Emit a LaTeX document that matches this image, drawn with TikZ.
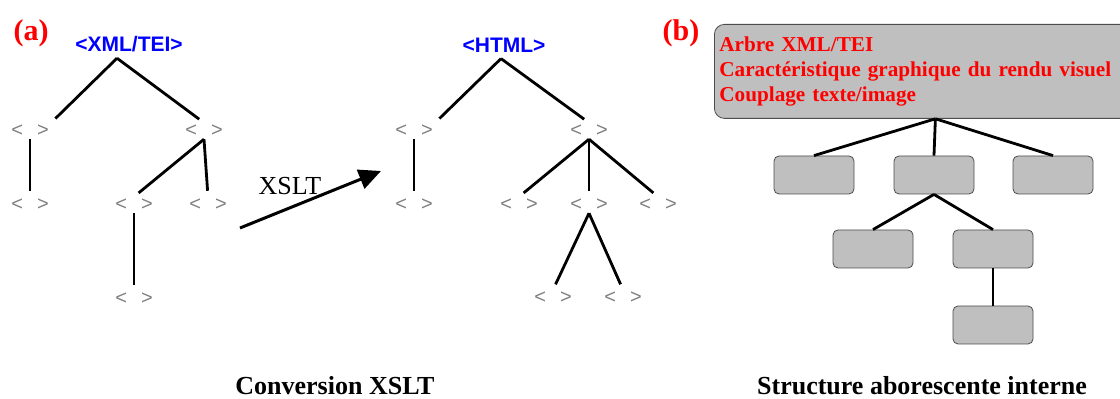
\documentclass[tikz,border=0pt]{standalone}
\usepackage{fontspec}
\setmainfont{Liberation Serif}
\setsansfont{Liberation Sans}
\usepackage{tikz}
\usetikzlibrary{calc,arrows.meta,positioning}

\begin{document}
\begin{tikzpicture}[x=0.5pt,y=-0.5pt]

  % Styles
  \tikzstyle{tag}=[text=gray,font=\sffamily\fontsize{10}{11}\selectfont,inner sep=1pt]
  \tikzstyle{root}=[text=blue,font=\sffamily\bfseries\fontsize{10.5}{12}\selectfont,inner sep=1pt]
  \tikzstyle{branch}=[line width=1.4pt,shorten >=3pt]
  \tikzstyle{link}=[line width=1.4pt]
  \tikzstyle{box}=[draw=black!70,fill=gray!50,rounded corners=2.5pt,minimum width=40pt,minimum height=19pt]
  \tikzstyle{panel}=[text=red,font=\bfseries\fontsize{15}{18}\selectfont]
  \tikzstyle{caption}=[font=\bfseries\fontsize{13}{15}\selectfont]
  \tikzstyle{to}=[-{Triangle[length=11pt,width=10pt]},line width=1.5pt]

  % \chev{<id>}, \boite{<id>}
  \newcommand{\chev}[1]{node[tag] (#1) {<\hspace{7pt}>}}
  \newcommand{\boite}[1]{node[box] (#1) {}}

  % ===========================================================================

  \useasboundingbox (0,0) rectangle (1120,399);

  % Panel labels
  \node[panel] (pa) at (31,33) {(a)};
  \node[panel] (pb) at (681,33) {(b)};

  % XML/TEI tree
  \node[root] (xml) at (129,44) {<XML/TEI>};
  \path (30,131)  \chev{a1};
  \path (204,131) \chev{a2};
  \path (30,205)  \chev{a3};
  \path (134,205) \chev{a4};
  \path (208,205) \chev{a5};
  \path (134,299) \chev{a6};

  \draw[branch] ($(xml.south)+(-12,4)$) -- (a1.north east);
  \draw[branch] ($(xml.south)+(-12,4)$) -- (a2.north);
  \draw[branch] (a1.south) -- (a3.north);
  \draw[branch] (a2.south) -- (a4.north);
  \draw[branch] (a2.south) -- (a5.north);
  \draw[branch] (a4.south) -- (a6.north);

  % XSLT arrow
  \coordinate (xs) at (240,228);
  \coordinate (xe) at (381,171);
  \draw[to] (xs) -- (xe);
  \node[font=\fontsize{13}{15}\selectfont] (xslt) at (290,186) {XSLT};

  % HTML tree
  \node[root] (html) at (504,45) {<HTML>};
  \path (414,131) \chev{b1};
  \path (589,131) \chev{b2};
  \path (414,205) \chev{b3};
  \path (519,205) \chev{b4};
  \path (589,205) \chev{b5};
  \path (658,205) \chev{b6};
  \path (553,298) \chev{b7};
  \path (623,298) \chev{b8};

  \draw[branch] ($(html.south)+(-3,4)$) -- (b1.north east);
  \draw[branch] ($(html.south)+(-3,4)$) -- (b2.north);
  \draw[branch] (b1.south) -- (b3.north);
  \draw[branch] (b2.south) -- (b4.north);
  \draw[branch] (b2.south) -- (b5.north);
  \draw[branch] (b2.south) -- (b6.north);
  \draw[branch] (b5.south) -- (b7.north);
  \draw[branch] (b5.south) -- (b8.north);

  % Internal structure
  \node[draw=black!70,fill=gray!50,rounded corners=5pt,anchor=north west,
        text width=216pt,minimum height=47pt,inner xsep=2.5pt,align=left,
        text=red,font=\bfseries\fontsize{10.6}{12.5}\selectfont] (arbre) at (714,24)
        {Arbre XML/TEI\\Caract\'eristique graphique du rendu visuel\\Couplage texte/image};
  \path (814,175) \boite{s1};
  \path (934,175) \boite{s2};
  \path (1053,175) \boite{s3};
  \path (873,249) \boite{t1};
  \path (993,249) \boite{t2};
  \path (993,325) \boite{u1};

  \draw[link] (arbre.south) -- (s1.north);
  \draw[link] (arbre.south) -- (s2.north);
  \draw[link] (arbre.south) -- (s3.north);
  \draw[link] (s2.south) -- (t1.north);
  \draw[link] (s2.south) -- (t2.north);
  \draw[link] (t2.south) -- (u1.north);

  % Captions
  \node[caption] (capa) at (335,386) {Conversion XSLT};
  \node[caption] (capb) at (922,386) {Structure aborescente interne};

\end{tikzpicture}
\end{document}
